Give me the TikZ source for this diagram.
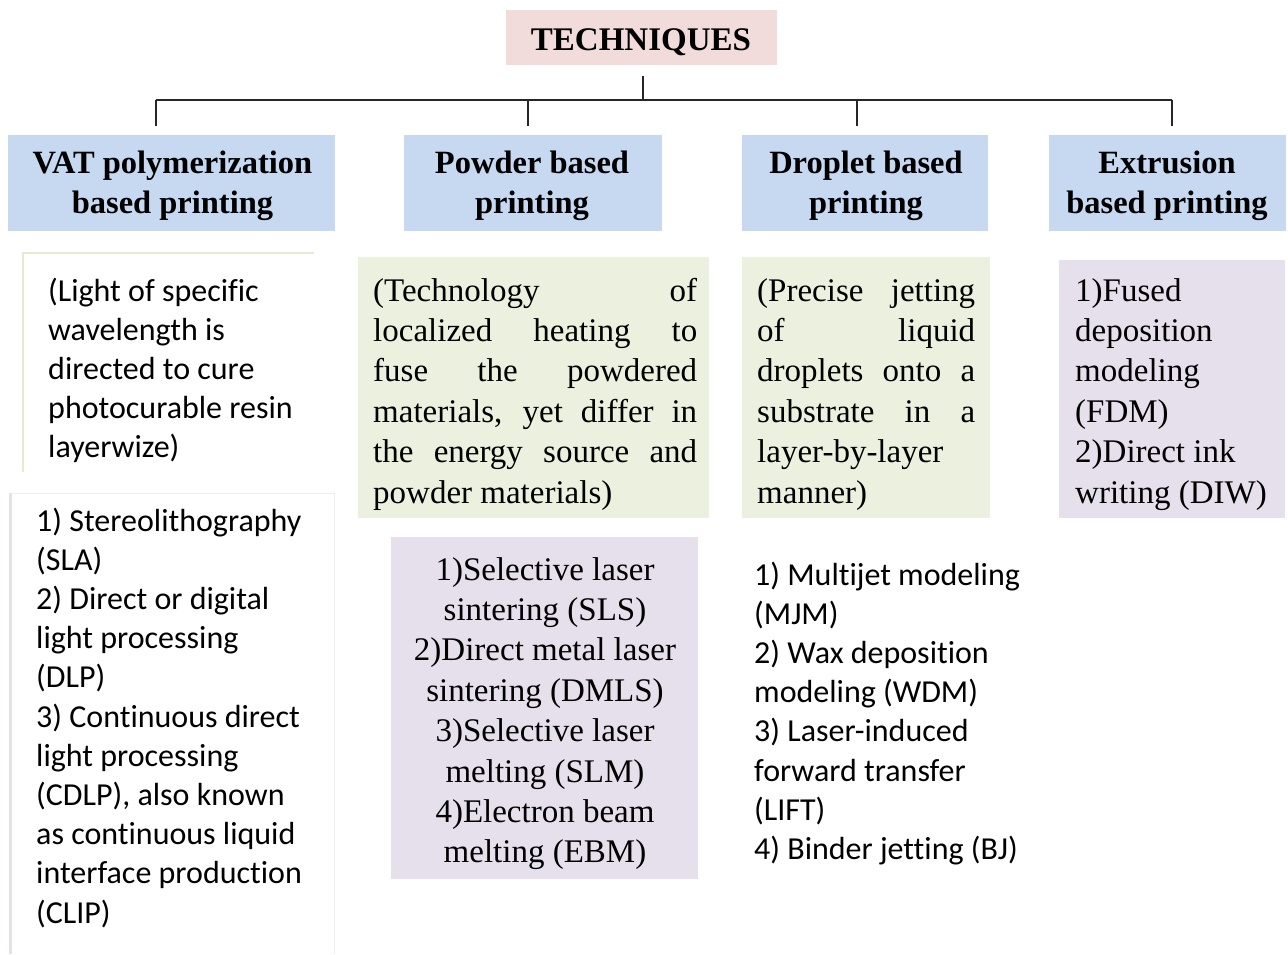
\documentclass[tikz,border=0pt]{standalone}
\usepackage{fontspec}
\setmainfont[Ligatures=NoCommon]{Liberation Serif}
\newfontfamily\calfont[Ligatures=NoCommon]{Carlito}
\definecolor{hpink}{HTML}{F2DCDB}
\definecolor{hblue}{HTML}{C6D9F1}
\definecolor{hgreen}{HTML}{EBF1DE}
\definecolor{hgreenline}{HTML}{E3EBD2}
\definecolor{hpurple}{HTML}{E5E0EC}
\definecolor{hgray}{HTML}{EEEEEE}
\begin{document}
\begin{tikzpicture}[x=1pt,y=-1pt,
  box/.style={draw=none,inner sep=0pt,outer sep=0pt},
  hbox/.style={box,fill=hblue,minimum height=96},
  hdr/.style={inner sep=0pt,anchor=base,text width=320pt,align=flush center,font=\fontsize{32.5}{40}\selectfont\bfseries},
  serif/.style={inner sep=0pt,font=\fontsize{33}{40.4}\selectfont},
  sans/.style={inner sep=0pt,anchor=base west,text width=300pt,align=flush left,font=\calfont\fontsize{32}{39.2}\selectfont},
  tree/.style={line width=2pt,black!85}]
\useasboundingbox (0,0) rectangle (1288,954);

% title
\node[box,fill=hpink,minimum width=271,minimum height=55] (tech) at (641.5,37.5) {};
\node[hdr,font=\fontsize{33}{40}\selectfont\bfseries] (techt) at (641,50) {TECHNIQUES};

% header boxes
\node[hbox,minimum width=327] (vat) at (171.5,182.5) {};
\node[hbox,minimum width=258] (pow) at (533,182.5) {};
\node[hbox,minimum width=246] (dro) at (865,182.5) {};
\node[hbox,minimum width=237] (ext) at (1167.5,182.5) {};
\node[hdr] (vatt) at (172.5,173) {VAT polymerization\\based printing};
\node[hdr] (powt) at (532,173) {Powder based\\printing};
\node[hdr] (drot) at (866,173) {Droplet based\\printing};
\node[hdr] (extt) at (1167,173) {Extrusion\\based printing};

% tree connectors
\coordinate (bus) at (643,100);
\coordinate (d1) at (156,126);
\coordinate (d2) at (528,126);
\coordinate (d3) at (857,126);
\coordinate (d4) at (1172,126);
\draw[tree] ([yshift=-11pt]tech.south -| bus) -- (bus);
\draw[tree] (d1 |- bus) -- (d4 |- bus);
\draw[tree] (d1 |- bus) -- (d1);
\draw[tree] (d2 |- bus) -- (d2);
\draw[tree] (d3 |- bus) -- (d3);
\draw[tree] (d4 |- bus) -- (d4);

% VAT description frame
\draw[line width=2pt,hgreenline] (23,472) -- (23,253) -- (314,253);
\node[sans] (vatdesc) at (48,301) {(Light of specific\\wavelength is\\directed to cure\\photocurable resin\\layerwize)};

% VAT list frame
\draw[line width=3pt,hpurple] (10,493) -- (10,954);
\draw[line width=1pt,hgray] (11,493) -- (334,493) -- (334,954);
\node[sans] (vatlist) at (36,531) {1) Stereolithography\\(SLA)\\2) Direct or digital\\light processing\\(DLP)\\3) Continuous direct\\light processing\\(CDLP), also known\\as continuous liquid\\interface production\\(CLIP)};

% Powder description
\node[box,fill=hgreen,minimum width=351,minimum height=261] (powbox) at (533.5,387.5) {};
\node[serif,anchor=base west,text width=324pt,align=justify] (powdesc) at (373,301) {(Technology of\linebreak localized heating to\linebreak fuse the powdered\linebreak materials, yet differ in\linebreak the energy source and\linebreak powder materials)};

% Powder list
\node[box,fill=hpurple,minimum width=307,minimum height=342] (powlbox) at (544.5,708) {};
\node[serif,anchor=base,text width=300pt,align=flush center] (powlist) at (545,580) {1)Selective laser\\sintering (SLS)\\2)Direct metal laser\\sintering (DMLS)\\3)Selective laser\\melting (SLM)\\4)Electron beam\\melting (EBM)};

% Droplet description
\node[box,fill=hgreen,minimum width=248,minimum height=261] (drobox) at (866,387.5) {};
\node[serif,anchor=base west,text width=218pt,align=justify] (drodesc) at (757,301) {(Precise jetting\linebreak of liquid\linebreak droplets onto a\linebreak substrate in a\linebreak layer-by-layer\newline manner)};

% Droplet list
\node[sans] (drolist) at (754,585) {1) Multijet modeling\\(MJM)\\2) Wax deposition\\modeling (WDM)\\3) Laser-induced\\forward transfer\\(LIFT)\\4) Binder jetting (BJ)};

% Extrusion description
\node[box,fill=hpurple,minimum width=226,minimum height=258] (extbox) at (1172,389) {};
\node[serif,anchor=base west,text width=205pt,align=flush left] (extdesc) at (1075,301) {1)Fused\\deposition\\modeling\\(FDM)\\2)Direct ink\\writing (DIW)};
\end{tikzpicture}
\end{document}
